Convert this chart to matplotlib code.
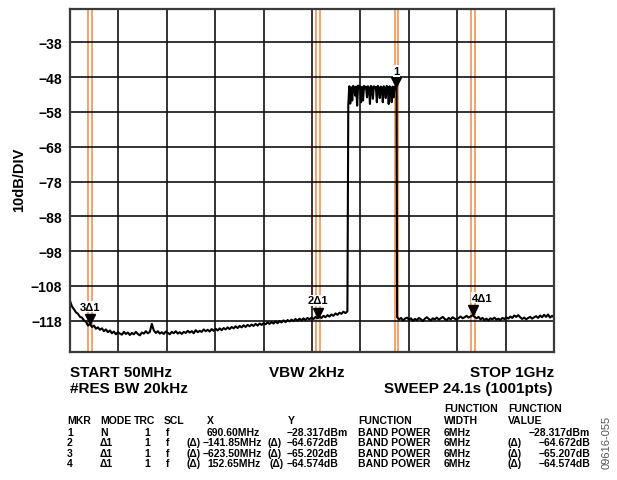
import numpy as np
import matplotlib
matplotlib.use('Agg')
import matplotlib.pyplot as plt
import matplotlib.transforms as mtransforms

plt.rcParams['font.family'] = ['Liberation Sans', 'DejaVu Sans']
plt.rcParams['font.weight'] = 'bold'

# Sweep settings (MHz / dBm)
startFreq = 50
stopFreq = 1000
refTop = -28.4
refBottom = -126.9
yTicks = [-38, -48, -58, -68, -78, -88, -98, -108, -118]

# Trace levels, three segments
noiseLeftDb = [
    -112.3, -113.9, -114.7, -115.6, -116.0, -116.9, -117.1, -117.9, -118.3, -119.4,
    -118.9, -119.8, -119.4, -120.3, -119.9, -120.6, -120.2, -121.0, -120.5, -121.3,
    -120.8, -121.6, -121.1, -121.9, -121.3, -121.7, -122.0, -121.2, -121.8, -121.4,
    -122.1, -121.5, -121.9, -121.2, -121.8, -122.2, -121.4, -121.7, -121.0, -121.6,
    -121.2, -118.9, -120.8, -121.5, -121.0, -121.7, -121.3, -121.8, -121.1, -121.5,
    -121.9, -121.2, -121.6, -121.0, -121.7, -121.3, -121.8, -121.2, -121.5, -120.9,
    -121.4, -121.0, -121.6, -120.7, -121.3, -120.9, -121.2, -120.5, -121.0, -120.6,
    -121.1, -120.4, -120.9, -120.3, -120.8, -120.2, -120.7, -120.1, -120.5, -119.9,
    -120.4, -119.8, -120.2, -119.6, -120.1, -119.5, -119.9, -119.3, -119.8, -119.2,
    -119.6, -119.1, -119.5, -118.9, -119.4, -118.8, -119.2, -118.7, -119.0, -118.5,
    -118.9, -118.4, -118.8, -118.2, -118.7, -118.1, -118.5, -117.9, -118.4, -117.8,
    -118.2, -117.7, -118.1, -117.5, -118.0, -117.4, -117.9, -117.3, -117.8, -117.2,
    -117.6, -117.1, -117.5, -116.9, -117.3, -116.8, -117.2, -116.6, -117.0, -116.4,
    -116.8, -116.2, -116.6, -115.9, -116.3, -115.7, -116.0, -115.4, -115.8, -115.3,
]
bandDb = [
    -56.0, -50.6, -55.6, -50.9, -54.7, -50.5, -51.0, -53.3, -50.7, -56.2,
    -50.4, -51.1, -50.6, -55.2, -50.8, -54.7, -50.5, -51.2, -50.7, -53.8,
    -50.6, -51.0, -55.7, -50.5, -50.9, -54.2, -50.6, -51.1, -50.8, -55.2,
    -50.5, -51.0, -54.0, -50.7, -50.9, -55.2, -50.6, -51.0, -54.0, -50.5,
    -50.8, -55.7, -50.6, -51.1, -55.2, -50.7, -53.8, -50.9, -50.6, -50.8,
]
noiseRightDb = [
    -117.0, -117.6, -117.2, -117.9, -117.4, -117.1, -117.7, -117.3, -118.0, -117.5,
    -117.8, -117.2, -117.6, -118.1, -117.4, -117.0, -117.5, -117.9, -117.3, -117.6,
    -117.1, -117.7, -117.3, -116.9, -117.5, -117.8, -117.2, -117.6, -117.0, -117.4,
    -117.7, -117.2, -116.8, -117.3, -117.0, -116.6, -117.1, -116.8, -116.4, -116.9,
    -117.3, -116.9, -117.6, -117.2, -117.8, -117.4, -117.9, -117.3, -117.6, -117.1,
    -117.7, -117.4, -117.8, -117.2, -117.5, -117.0, -117.4, -116.8, -117.2, -116.5,
    -116.9, -116.4, -117.0, -117.5, -117.1, -117.6, -117.2, -116.9, -117.4, -117.0,
    -116.7, -117.2, -116.5, -117.0, -116.3, -116.9, -116.2, -117.1, -116.6, -117.0,
]

# Markers (freq MHz, level dB, label)
markerFreq = [690.6, 536.8, 89.3, 841.0]
markerDb = [-50.8, -117.2, -119.0, -116.4]
markerLabels = ['1', '2Δ1', '3Δ1', '4Δ1']
markerLabelOffset = [(0, 8), (0, 9), (0, 9), (6.5, 9)]
bandWidth = 6.0

# Marker table
tblMkr = ['1', '2', '3', '4']
tblMode = ['N', 'Δ1', 'Δ1', 'Δ1']
tblTrc = ['1', '1', '1', '1']
tblScl = ['f', 'f', 'f', 'f']
tblX = ['690.60MHz', '−141.85MHz', '−623.50MHz', '152.65MHz']
tblY = ['−28.317dBm', '−64.672dB', '−65.202dB', '−64.574dB']
tblDelta = [False, True, True, True]
tblFunc = ['BAND POWER'] * 4
tblWidth = ['6MHz'] * 4
tblValue = ['−28.317dBm', '−64.672dB', '−65.207dB', '−64.574dB']

W, H = 617, 481
fig = plt.figure(figsize=(W / 100, H / 100), dpi=100)
ax = fig.add_axes([70 / W, 1 - 352.7 / H, 484 / W, 342.7 / H])

freqs = np.concatenate([
    np.linspace(50, 594.5, len(noiseLeftDb)),
    np.linspace(596.2, 691.0, len(bandDb)),
    np.linspace(692.0, 1000, len(noiseRightDb)),
])
levels = np.concatenate([noiseLeftDb, bandDb, noiseRightDb])

orange = '#F59150'
for f in markerFreq:
    ax.axvline(f - bandWidth / 2, color=orange, lw=1.2, zorder=0.3)
    ax.axvline(f + bandWidth / 2, color=orange, lw=1.2, zorder=0.3)

ax.plot(freqs, levels, color='black', lw=1.5, zorder=2)

triOffset = mtransforms.offset_copy(ax.transData, fig=fig, y=3.5, units='points')
ax.plot(markerFreq, markerDb, 'v', color='black', ms=7, transform=triOffset, zorder=3)
for f, d, lab, off in zip(markerFreq, markerDb, markerLabels, markerLabelOffset):
    ax.annotate(lab, xy=(f, d), xytext=off, textcoords='offset points',
                ha='center', va='bottom', fontsize=8, fontweight='bold',
                bbox=dict(fc='white', ec='none', pad=0.6), zorder=4)

ax.set_xlim(startFreq, stopFreq)
ax.set_ylim(refBottom, refTop)
ax.set_xticks(np.linspace(startFreq, stopFreq, 11))
ax.set_yticks(yTicks)
ax.set_xticklabels([])
ax.tick_params(length=0, labelsize=10, pad=6)
for lab in ax.get_yticklabels():
    lab.set_fontweight('bold')
ax.set_axisbelow(True)
ax.grid(True, color='#111111', lw=1.2)
for s in ax.spines.values():
    s.set_linewidth(1.6)
    s.set_color('#3a3a3a')

fig.text(19 / W, 1 - 180 / H, '10dB/DIV', rotation=90, ha='center', va='center',
         fontsize=10.5, fontweight='bold')

def put(px, py, s, ha='left', size=11, **kw):
    fig.text(px / W, 1 - py / H, s, ha=ha, va='center', fontsize=size,
             fontweight='bold', **kw)

put(70, 373, 'START 50MHz')
put(70, 389, '#RES BW 20kHz')
put(307, 373, 'VBW 2kHz', ha='center')
put(554, 373, 'STOP 1GHz', ha='right')
put(553, 389, 'SWEEP 24.1s (1001pts)', ha='right')

ts = 7.5
put(444, 409, 'FUNCTION', size=ts)
put(508, 409, 'FUNCTION', size=ts)
hdr = 421
put(67, hdr, 'MKR', size=ts)
put(100, hdr, 'MODE', size=ts)
put(134, hdr, 'TRC', size=ts)
put(164, hdr, 'SCL', size=ts)
put(207, hdr, 'X', size=ts)
put(288, hdr, 'Y', size=ts)
put(358, hdr, 'FUNCTION', size=ts)
put(444, hdr, 'WIDTH', size=ts)
put(508, hdr, 'VALUE', size=ts)

rowY = [433, 443.5, 454, 464.5]
for i, py in enumerate(rowY):
    put(67, py, tblMkr[i], size=ts)
    put(100, py, tblMode[i], size=ts)
    put(147, py, tblTrc[i], size=ts, ha='center')
    put(166, py, tblScl[i], size=ts)
    xs = tblX[i]
    put(203 if xs.startswith('−') else 207, py, xs, size=ts)
    put(287, py, tblY[i], size=ts)
    if tblDelta[i]:
        put(186, py, '(Δ)', size=ts)
        put(267 if xs.startswith('−') else 269, py, '(Δ)', size=ts)
        put(508, py, '(Δ)', size=ts)
    put(358, py, tblFunc[i], size=ts)
    put(444, py, tblWidth[i], size=ts)
    put(590, py, tblValue[i], size=ts, ha='right')

fig.text(607 / W, 1 - 442 / H, '09616-055', rotation=90, ha='center', va='center',
         fontsize=8, fontweight='normal', color='#555555')

fig.savefig('out.png', dpi=100)
